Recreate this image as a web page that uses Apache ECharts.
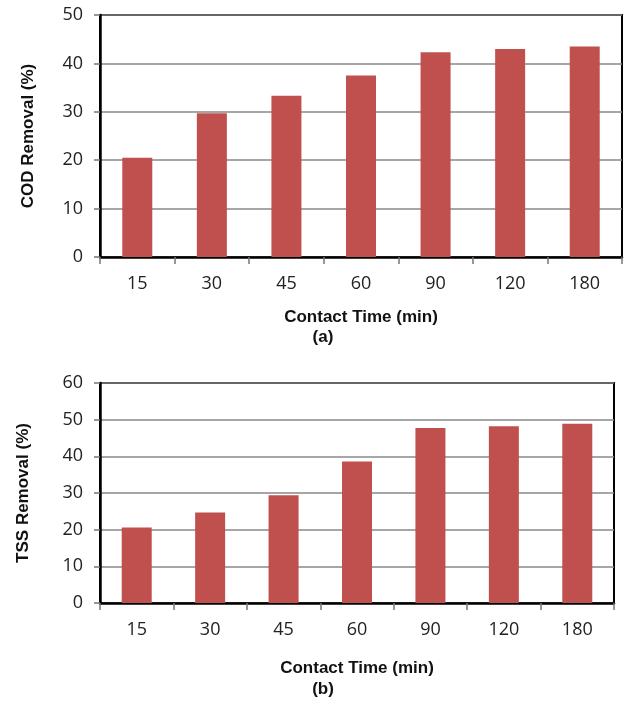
<!DOCTYPE html>
<html>
<head>
<meta charset="utf-8">
<script src="https://cdn.jsdelivr.net/npm/echarts@6/dist/echarts.min.js"></script>
<style>
  html, body { margin: 0; padding: 0; background: #fff; }
  #chart { width: 625px; height: 702px; }
</style>
</head>
<body>
<div id="chart"></div>
<script>
// contact times (min)
const contact_times = ['15', '30', '45', '60', '90', '120', '180'];
// (a) COD removal %
const cod_removal = [20.5, 29.7, 33.3, 37.5, 42.3, 43.0, 43.5];
// (b) TSS removal %
const tss_removal = [20.6, 24.7, 29.4, 38.6, 47.7, 48.2, 48.9];

const bar_color = '#C0504D';
const tick_font = '"Open Sans", sans-serif';
const title_font = '"Liberation Sans", Arial, sans-serif';

function x_axis(idx, gap) {
  return {
    type: 'category',
    gridIndex: idx,
    data: contact_times,
    name: 'Contact Time (min)',
    nameLocation: 'middle',
    nameGap: gap,
    nameTextStyle: {fontFamily: title_font, fontWeight: 'bold', fontSize: 17, color: '#111'},
    axisLine: {lineStyle: {color: '#000', width: 2.5}},
    axisTick: {show: true, length: 7, lineStyle: {color: '#777', width: 1.5}},
    axisLabel: {margin: 18, fontFamily: tick_font, fontSize: 18, color: '#222'},
    splitLine: {show: false}
  };
}

function y_axis(idx, name, max, gap) {
  return {
    type: 'value',
    gridIndex: idx,
    min: 0,
    max: max,
    interval: 10,
    name: name,
    nameLocation: 'middle',
    nameRotate: 90,
    nameGap: gap,
    nameTextStyle: {fontFamily: title_font, fontWeight: 'bold', fontSize: 17, color: '#111'},
    axisLine: {show: true, lineStyle: {color: '#000', width: 2.5}},
    axisTick: {show: true, length: 6, lineStyle: {color: '#777', width: 1.5}},
    axisLabel: {margin: 17, fontFamily: tick_font, fontSize: 18, color: '#222'},
    splitLine: {show: true, lineStyle: {color: '#888', width: 1.5}}
  };
}

const chart = echarts.init(document.getElementById('chart'));
chart.setOption({
  animation: false,
  backgroundColor: '#fff',
  title: [
    {text: '(a)', left: 318, top: 324, textAlign: 'center',
      textStyle: {fontFamily: title_font, fontWeight: 'bold', fontSize: 17, color: '#111'}},
    {text: '(b)', left: 318, top: 676, textAlign: 'center',
      textStyle: {fontFamily: title_font, fontWeight: 'bold', fontSize: 17, color: '#111'}}
  ],
  grid: [
    {left: 100, top: 15, width: 522, height: 242, show: true, borderColor: '#000', borderWidth: 2},
    {left: 100, top: 383, width: 514, height: 220, show: true, borderColor: '#000', borderWidth: 2}
  ],
  xAxis: [x_axis(0, 52), x_axis(1, 57)],
  yAxis: [y_axis(0, 'COD Removal (%)', 50, 63), y_axis(1, 'TSS Removal (%)', 60, 68)],
  series: [
    {type: 'bar', xAxisIndex: 0, yAxisIndex: 0, data: cod_removal, barWidth: 30,
      itemStyle: {color: bar_color}},
    {type: 'bar', xAxisIndex: 1, yAxisIndex: 1, data: tss_removal, barWidth: 30,
      itemStyle: {color: bar_color}}
  ]
});
</script>
</body>
</html>
